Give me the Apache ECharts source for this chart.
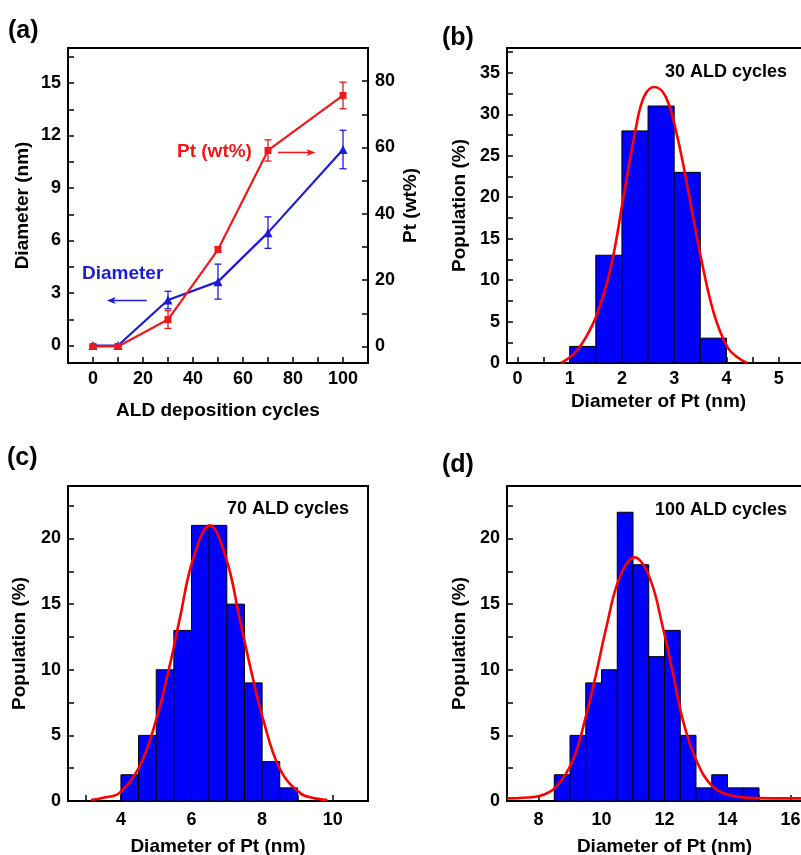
<!DOCTYPE html>
<html>
<head>
<meta charset="utf-8">
<script src="https://cdn.jsdelivr.net/npm/echarts@6/dist/echarts.min.js"></script>
<style>html,body{margin:0;padding:0;background:#fff}#c{width:801px;height:855px}</style>
</head>
<body>
<div id="c"></div>
<script>
// ---------- Panel (a) ----------
const aCycles = [0, 10, 30, 50, 70, 100];
const aDiameter = [0, 0, 2.6, 3.65, 6.45, 11.2];
const aDiameterErr = [0, 0, 0.5, 1.0, 0.9, 1.1];
const aPt = [0, 0, 8.1, 29.2, 59.1, 75.7];
const aPtErr = [0, 0, 2.7, 0.8, 3.2, 4.0];
const aXLabels = [0, 20, 40, 60, 80, 100];
const aXTicks = [0, 10, 20, 30, 40, 50, 60, 70, 80, 90, 100];
const aYLabels = [0, 3, 6, 9, 12, 15];
const aYTicks = [0, 1.5, 3, 4.5, 6, 7.5, 9, 10.5, 12, 13.5, 15, 16.5];
const aY2Labels = [0, 20, 40, 60, 80];
const aY2Ticks = [0, 10, 20, 30, 40, 50, 60, 70, 80];

// ---------- Panel (b) 30 cycles ----------
const bEdges = [1, 1.5, 2, 2.5, 3, 3.5, 4];
const bCounts = [2, 13, 28, 31, 23, 3];
const bFitX = [0.83, 1.08, 1.31, 1.53, 1.79, 2.04, 2.26, 2.42, 2.62, 2.84, 3.06, 3.28, 3.51, 3.76, 4.02, 4.21, 4.4];
const bFitY = [0, 1.1, 3.1, 6.0, 11.6, 20.4, 28.1, 32.1, 33.3, 32.1, 27.3, 20.4, 12.8, 6.0, 1.9, 0.7, 0];
const bXLabels = [0, 1, 2, 3, 4, 5];
const bXTicks = [0, 0.5, 1, 1.5, 2, 2.5, 3, 3.5, 4, 4.5, 5, 5.5];
const bYLabels = [0, 5, 10, 15, 20, 25, 30, 35];
const bYTicks = [0, 2.5, 5, 7.5, 10, 12.5, 15, 17.5, 20, 22.5, 25, 27.5, 30, 32.5, 35, 37.5];

// ---------- Panel (c) 70 cycles ----------
const cEdges = [4, 4.5, 5, 5.5, 6, 6.5, 7, 7.5, 8, 8.5, 9];
const cCounts = [2, 5, 10, 13, 21, 21, 15, 9, 3, 1];
const cFitX = [3.15, 3.5, 3.95, 4.52, 5.0, 5.38, 5.66, 6.04, 6.52, 6.99, 7.37, 7.7, 8.03, 8.51, 9.08, 9.5, 9.85];
const cFitY = [0.08, 0.25, 0.6, 2.6, 6.2, 10.3, 13.8, 18.4, 21.0, 18.4, 13.8, 9.8, 6.2, 2.4, 0.6, 0.2, 0.08];
const cXLabels = [4, 6, 8, 10];
const cXTicks = [3, 4, 5, 6, 7, 8, 9, 10];
const cYLabels = [0, 5, 10, 15, 20];
const cYTicks = [0, 2.5, 5, 7.5, 10, 12.5, 15, 17.5, 20, 22.5];

// ---------- Panel (d) 100 cycles ----------
const dEdges = [8.5, 9, 9.5, 10, 10.5, 11, 11.5, 12, 12.5, 13, 13.5, 14, 14.5, 15];
const dCounts = [2, 5, 9, 10, 22, 18, 11, 13, 5, 1, 2, 1, 1];
const dFitX = [7.0, 7.5, 8.03, 8.56, 9.09, 9.52, 9.83, 10.15, 10.57, 11.05, 11.53, 11.95, 12.27, 12.59, 13.01, 13.54, 14.18, 15, 16, 17];
const dFitY = [0.2, 0.25, 0.38, 1.08, 3.1, 6.6, 9.7, 13.2, 17.0, 18.56, 17.0, 13.2, 9.7, 6.1, 3.1, 1.08, 0.4, 0.22, 0.2, 0.2];
const dXLabels = [8, 10, 12, 14, 16];
const dXTicks = [8, 9, 10, 11, 12, 13, 14, 15, 16];
const dYLabels = [0, 5, 10, 15, 20];
const dYTicks = [0, 2.5, 5, 7.5, 10, 12.5, 15, 17.5, 20, 22.5];

// annotation arrows of panel (a), in data units: [x from, x to, y]
const aPtArrow = [74, 89, 58.5];
const aDiameterArrow = [21.5, 5.5, 2.57];

const FONT = '"Liberation Sans", Arial, Helvetica, sans-serif';
const RED = '#f01818';
const BLUE = '#1c1cd8';
const BAR = '#0000ff';

function zip(a, b) { return a.map((v, i) => [v, b[i]]); }
function histRows(edges, counts) { return counts.map((c, i) => [edges[i], edges[i + 1], c]); }
function errRows(xs, ys, es) { return xs.map((x, i) => [x, ys[i] - es[i], ys[i] + es[i]]); }

function labelStyle(labels, margin) {
  return { customValues: labels, color: '#000', fontSize: 18, fontWeight: 'bold', fontFamily: FONT, margin: margin };
}

function axis(gridIndex, min, max, labels, ticks, extra) {
  return Object.assign({
    type: 'value', gridIndex, min, max,
    axisLine: { show: true, onZero: false, lineStyle: { color: '#000', width: 2 } },
    axisTick: { show: true, inside: true, length: 6, customValues: ticks, lineStyle: { color: '#000', width: 1.5 } },
    axisLabel: labelStyle(labels, 7),
    splitLine: { show: false },
    nameLocation: 'middle',
    nameTextStyle: { color: '#000', fontSize: 19, fontWeight: 'bold', fontFamily: FONT }
  }, extra || {});
}

function histSeries(xi, rows) {
  return {
    type: 'custom', xAxisIndex: xi, yAxisIndex: xi + 1, z: 2,
    encode: { x: [0, 1], y: 2 },
    data: rows,
    renderItem: function (params, api) {
      const p0 = api.coord([api.value(0), api.value(2)]);
      const p1 = api.coord([api.value(1), 0]);
      return {
        type: 'rect',
        shape: { x: p0[0], y: p0[1], width: p1[0] - p0[0], height: p1[1] - p0[1] },
        style: { fill: BAR, stroke: '#000', lineWidth: 1 }
      };
    }
  };
}

function fitSeries(xi, xs, ys) {
  return {
    type: 'line', xAxisIndex: xi, yAxisIndex: xi + 1, z: 5,
    data: zip(xs, ys), smooth: 0.4, showSymbol: false, symbol: 'none',
    lineStyle: { color: '#ff0000', width: 2.6 }, clip: true
  };
}

function errSeries(yi, rows, color) {
  return {
    type: 'custom', xAxisIndex: 0, yAxisIndex: yi, z: 4,
    encode: { x: 0, y: [1, 2] },
    data: rows,
    renderItem: function (params, api) {
      const x = api.value(0);
      const lo = api.coord([x, api.value(1)]);
      const hi = api.coord([x, api.value(2)]);
      const w = 3.5;
      const st = { stroke: color, lineWidth: 1.3 };
      return {
        type: 'group', children: [
          { type: 'line', shape: { x1: lo[0], y1: lo[1], x2: hi[0], y2: hi[1] }, style: st },
          { type: 'line', shape: { x1: lo[0] - w, y1: lo[1], x2: lo[0] + w, y2: lo[1] }, style: st },
          { type: 'line', shape: { x1: hi[0] - w, y1: hi[1], x2: hi[0] + w, y2: hi[1] }, style: st }
        ]
      };
    }
  };
}

function arrowSeries(yi, arr, color) {
  return {
    type: 'custom', xAxisIndex: 0, yAxisIndex: yi, z: 7, silent: true,
    encode: { x: [0, 1], y: 2 },
    data: [arr],
    renderItem: function (params, api) {
      const p0 = api.coord([api.value(0), api.value(2)]);
      const p1 = api.coord([api.value(1), api.value(2)]);
      const dir = p1[0] > p0[0] ? 1 : -1;
      const hl = 9, hw = 3.5;
      const tip = p1[0];
      return {
        type: 'group', children: [
          { type: 'line', shape: { x1: p0[0], y1: p0[1], x2: tip - dir * hl * 0.7, y2: p1[1] }, style: { stroke: color, lineWidth: 1.6 } },
          { type: 'polygon', shape: { points: [[tip, p1[1]], [tip - dir * hl, p1[1] - hw], [tip - dir * hl * 0.75, p1[1]], [tip - dir * hl, p1[1] + hw]] }, style: { fill: color } }
        ]
      };
    }
  };
}

function txt(x, y, text, size, color, align) {
  return {
    type: 'text', x: x, y: y, z: 100,
    style: {
      text: text, fill: color, font: 'bold ' + size + 'px ' + FONT,
      textAlign: align || 'left', textVerticalAlign: 'middle', align: align || 'left', verticalAlign: 'middle'
    }
  };
}

const gridBase = { show: true, borderColor: '#000', borderWidth: 2, containLabel: false, outerBoundsMode: 'none' };

const option = {
  animation: false,
  backgroundColor: '#fff',
  grid: [
    Object.assign({ left: 68, top: 48, width: 300, height: 315 }, gridBase),
    Object.assign({ left: 507, top: 48, width: 303, height: 315 }, gridBase),
    Object.assign({ left: 68, top: 486, width: 300, height: 315 }, gridBase),
    Object.assign({ left: 507, top: 486, width: 315, height: 315 }, gridBase)
  ],
  xAxis: [
    axis(0, -10, 110, aXLabels, aXTicks, { name: 'ALD deposition cycles', nameGap: 38 }),
    axis(1, -0.2, 5.6, bXLabels, bXTicks, { name: 'Diameter of Pt (nm)', nameGap: 29 }),
    axis(2, 2.5, 11, cXLabels, cXTicks, { name: 'Diameter of Pt (nm)', nameGap: 36, axisLabel: labelStyle(cXLabels, 10) }),
    axis(3, 7, 17, dXLabels, dXTicks, { name: 'Diameter of Pt (nm)', nameGap: 36, axisLabel: labelStyle(dXLabels, 10) })
  ],
  yAxis: [
    axis(0, -1, 17, aYLabels, aYTicks, { name: 'Diameter (nm)', nameGap: 36, nameRotate: 90 }),
    axis(0, -5, 90, aY2Labels, aY2Ticks, { position: 'right', name: 'Pt (wt%)', nameGap: 33, nameRotate: 90 }),
    axis(1, 0, 38, bYLabels, bYTicks, { name: 'Population (%)', nameGap: 38, nameRotate: 90 }),
    axis(2, 0, 24, cYLabels, cYTicks, { name: 'Population (%)', nameGap: 39, nameRotate: 90 }),
    axis(3, 0, 24, dYLabels, dYTicks, { name: 'Population (%)', nameGap: 38, nameRotate: 90 })
  ],
  series: [
    errSeries(0, errRows(aCycles, aDiameter, aDiameterErr), BLUE),
    {
      type: 'line', xAxisIndex: 0, yAxisIndex: 0, z: 5,
      data: zip(aCycles, aDiameter),
      symbol: 'triangle', symbolSize: 9,
      itemStyle: { color: BLUE }, lineStyle: { color: BLUE, width: 2.2 }
    },
    errSeries(1, errRows(aCycles, aPt, aPtErr), RED),
    {
      type: 'line', xAxisIndex: 0, yAxisIndex: 1, z: 6,
      data: zip(aCycles, aPt),
      symbol: 'rect', symbolSize: 7,
      itemStyle: { color: RED }, lineStyle: { color: RED, width: 2.2 }
    },
    arrowSeries(0, aDiameterArrow, BLUE),
    arrowSeries(1, aPtArrow, RED),
    histSeries(1, histRows(bEdges, bCounts)),
    fitSeries(1, bFitX, bFitY),
    histSeries(2, histRows(cEdges, cCounts)),
    fitSeries(2, cFitX, cFitY),
    histSeries(3, histRows(dEdges, dCounts)),
    fitSeries(3, dFitX, dFitY)
  ],
  graphic: [
    txt(8, 31, '(a)', 25, '#000'),
    txt(442, 38, '(b)', 25, '#000'),
    txt(7, 458, '(c)', 25, '#000'),
    txt(442, 465, '(d)', 25, '#000'),
    txt(82, 274, 'Diameter', 19, BLUE),
    txt(177, 152, 'Pt (wt%)', 19, RED),
    txt(665, 72, '30 ALD cycles', 18, '#000'),
    txt(227, 509, '70 ALD cycles', 18, '#000'),
    txt(655, 510, '100 ALD cycles', 18, '#000')
  ]
};

const chart = echarts.init(document.getElementById('c'), null, { renderer: 'canvas', width: 801, height: 855 });
chart.setOption(option);
</script>
</body>
</html>
